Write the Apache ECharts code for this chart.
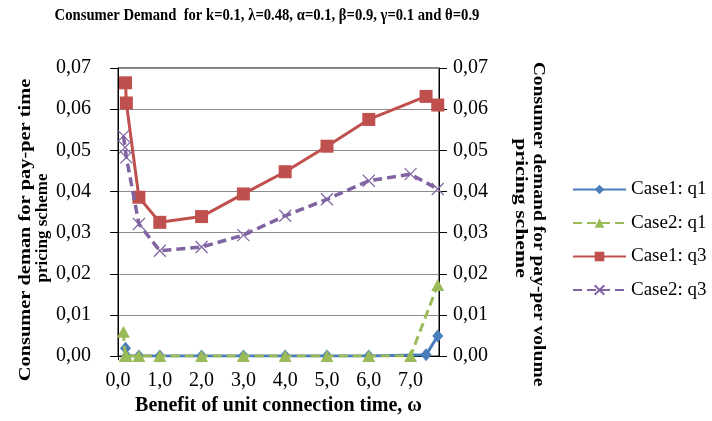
<!DOCTYPE html>
<html>
<head>
<meta charset="utf-8">
<script src="https://cdn.jsdelivr.net/npm/echarts@6/dist/echarts.min.js"></script>
<style>
  html, body { margin: 0; padding: 0; background: #fff; }
  #chart { width: 712px; height: 421px; }
</style>
</head>
<body>
<div id="chart"></div>
<script>
// Benefit of unit connection time (omega) for each case
const case1X = [0.18, 0.2, 0.5, 1, 2, 3, 4, 5, 6, 7.37, 7.65];
const case2X = [0.13, 0.17, 0.2, 0.5, 1, 2, 3, 4, 5, 6, 7, 7.65];

// Consumer demand values
const case1Q1 = [0.0019, 0, 0, 0, 0, 0, 0, 0, 0, 0.0003, 0.0049];
const case1Q3 = [0.0664, 0.0615, 0.0386, 0.0325, 0.0339, 0.0394, 0.0448, 0.0510, 0.0575, 0.0631, 0.0610];
const case2Q1 = [0.0059, 0, 0, 0, 0, 0, 0, 0, 0, 0, 0, 0.0173];
const case2Q3 = [0.0535, 0.0507, 0.0483, 0.0321, 0.0256, 0.0265, 0.0294, 0.0341, 0.0381, 0.0426, 0.0442, 0.0406];

const xTicks = [0, 1, 2, 3, 4, 5, 6, 7];
const seriesNames = ['Case1: q1', 'Case2: q1', 'Case1: q3', 'Case2: q3'];

const titleText = 'Consumer Demand  for k=0.1, \u03bb=0.48, \u03b1=0.1, \u03b2=0.9, \u03b3=0.1 and \u03b8=0.9';
const xName = 'Benefit of unit connection time, \u03c9';
const yLeftLines = ['Consumer deman for pay-per time', 'pricing scheme'];
const yRightLines = ['Consumer demand for pay-per volume', 'pricing scheme'];

const serif = '"Liberation Serif", "DejaVu Serif", serif';

function pairs(xs, ys) {
  return xs.map((x, i) => [x, ys[i]]);
}
const comma = (v, d) => v.toFixed(d).replace('.', ',');

const crossPath = 'path://M0,0L10,10M10,0L0,10';

// Bold serif text block; stretch runs along the text baseline before rotation
function boldText(text, x, y, rotation, size, stretch) {
  return {
    type: 'text',
    x: x,
    y: y,
    rotation: rotation,
    scaleX: stretch,
    style: {
      text: text,
      fill: '#000',
      font: 'bold ' + size + 'px ' + serif,
      textAlign: 'center',
      textVerticalAlign: 'middle'
    }
  };
}

const yAxisBase = {
  type: 'value',
  min: 0,
  max: 0.07,
  interval: 0.01,
  axisLine: { show: true, lineStyle: { color: '#000', width: 1 } },
  axisTick: { show: true, inside: false, length: 8, lineStyle: { color: '#000' } },
  axisLabel: { fontFamily: serif, fontSize: 20, color: '#000', formatter: v => comma(v, 2) }
};

const chart = echarts.init(document.getElementById('chart'), null, { renderer: 'canvas' });
chart.setOption({
  animation: false,
  backgroundColor: '#fff',
  legend: {
    orient: 'vertical',
    left: 567,
    top: 175,
    itemWidth: 53,
    itemHeight: 12,
    itemGap: 14.5,
    data: seriesNames,
    textStyle: { fontFamily: serif, fontSize: 19, color: '#000' }
  },
  graphic: [
    boldText(titleText, 267, 16, 0, 17, 0.862),
    boldText(yLeftLines[0], 26, 230, Math.PI / 2, 17, 1.2),
    boldText(yLeftLines[1], 43, 228, Math.PI / 2, 17, 1.0),
    boldText(yRightLines[0], 538, 224, -Math.PI / 2, 17, 1.15),
    boldText(yRightLines[1], 520, 208, -Math.PI / 2, 17, 1.28)
  ],
  grid: {
    left: 118,
    top: 68,
    width: 321,
    height: 290,
    show: true,
    borderColor: '#000',
    borderWidth: 1,
    containLabel: false
  },
  xAxis: {
    type: 'value',
    min: 0,
    max: 7.68,
    name: xName,
    nameLocation: 'middle',
    nameGap: 39,
    nameTextStyle: { fontFamily: serif, fontWeight: 'bold', fontSize: 20, color: '#000' },
    axisLine: { show: true, onZero: false, lineStyle: { color: '#000' } },
    axisTick: { show: true, length: 4, customValues: xTicks, lineStyle: { color: '#000' } },
    axisLabel: {
      fontFamily: serif, fontSize: 20, color: '#000', margin: 15,
      customValues: xTicks,
      formatter: v => comma(v, 1)
    },
    splitLine: { show: false }
  },
  yAxis: [
    Object.assign({}, yAxisBase, {
      position: 'left',
      axisLabel: Object.assign({}, yAxisBase.axisLabel, { margin: 27 }),
      splitLine: { show: true, lineStyle: { color: '#8c8c8c', width: 1 } }
    }),
    Object.assign({}, yAxisBase, {
      position: 'right',
      axisLabel: Object.assign({}, yAxisBase.axisLabel, { margin: 14 }),
      splitLine: { show: false }
    })
  ],
  series: [
    {
      name: seriesNames[0],
      type: 'line',
      data: pairs(case1X, case1Q1),
      symbol: 'diamond',
      symbolSize: [11, 13],
      showAllSymbol: true,
      lineStyle: { color: '#4a7ebb', width: 3 },
      itemStyle: { color: '#4a7ebb' },
      z: 2
    },
    {
      name: seriesNames[1],
      type: 'line',
      data: pairs(case2X, case2Q1),
      symbol: 'triangle',
      symbolSize: [13, 12],
      showAllSymbol: true,
      lineStyle: { color: '#9bbb59', width: 3, type: [9, 5] },
      itemStyle: { color: '#9bbb59' },
      z: 3
    },
    {
      name: seriesNames[2],
      type: 'line',
      data: pairs(case1X, case1Q3),
      symbol: 'rect',
      symbolSize: 13,
      showAllSymbol: true,
      lineStyle: { color: '#c0504d', width: 3 },
      itemStyle: { color: '#c0504d' },
      z: 4
    },
    {
      name: seriesNames[3],
      type: 'line',
      data: pairs(case2X, case2Q3),
      symbol: crossPath,
      symbolSize: 12,
      showAllSymbol: true,
      lineStyle: { color: '#8064a2', width: 3.5, type: [9, 5] },
      itemStyle: { color: '#8064a2', borderColor: '#8064a2', borderWidth: 1.2 },
      z: 5
    }
  ]
});
</script>
</body>
</html>
